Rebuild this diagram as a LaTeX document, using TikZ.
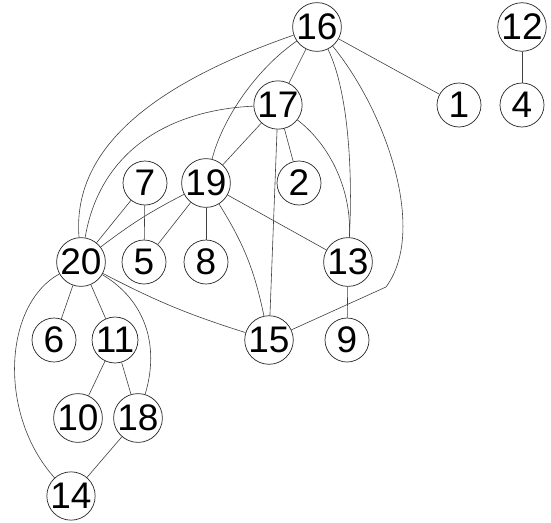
\documentclass[tikz,border=0pt]{standalone}
\usepackage{fontspec}
\setmainfont{Liberation Sans}
\begin{document}
\begin{tikzpicture}[x=1pt,y=1pt,
  vtx/.style={circle,draw=black!85,line width=0.7pt,fill=white,minimum size=44pt,inner sep=0pt,
    font=\fontsize{37}{37}\selectfont},
  edge/.style={draw=black!75,line width=0.6pt}]
\useasboundingbox[fill=white] (0,0) rectangle (551,-522);
\coordinate (k) at (386,-287);
\node[vtx] (16) at (317,-27) {16};
\node[vtx] (12) at (522,-27) {12};
\node[vtx] (1) at (459,-105) {1};
\node[vtx] (4) at (522,-105) {4};
\node[vtx] (17) at (278,-105) {17};
\node[vtx] (7) at (145,-183) {7};
\node[vtx] (19) at (206,-183) {19};
\node[vtx] (2) at (299,-183) {2};
\node[vtx] (20) at (81,-262) {20};
\node[vtx] (5) at (144,-262) {5};
\node[vtx] (8) at (206,-262) {8};
\node[vtx] (13) at (348,-262) {13};
\node[vtx] (6) at (54,-340) {6};
\node[vtx] (11) at (115,-340) {11};
\node[vtx] (15) at (269,-340) {15};
\node[vtx] (9) at (347,-340) {9};
\node[vtx] (10) at (78,-418) {10};
\node[vtx] (18) at (138,-418) {18};
\node[vtx] (14) at (71,-496) {14};
\path[edge] (16) -- (1);
\path[edge] (16) -- (17);
\path[edge] (12) -- (4);
\path[edge] (16) .. controls (150,-85) and (72,-150) .. (20);
\path[edge] (16) .. controls (255,-70) and (222,-120) .. (19);
\path[edge] (17) .. controls (170,-110) and (100,-150) .. (20);
\path[edge] (16) .. controls (348,-90) and (353,-170) .. (13);
\path[edge] (17) .. controls (330,-145) and (352,-190) .. (13);
\path[edge] (16) .. controls (385,-110) and (428,-230) .. (k) -- (15);
\path[edge] (17) -- (15);
\path[edge] (17) -- (19);
\path[edge] (17) -- (2);
\path[edge] (19) to[bend right=5] (20);
\path[edge] (19) -- (5);
\path[edge] (19) -- (8);
\path[edge] (19) -- (13);
\path[edge] (19) to[bend left=10] (15);
\path[edge] (7) -- (5);
\path[edge] (7) -- (20);
\path[edge] (20) -- (6);
\path[edge] (20) -- (11);
\path[edge] (20) to[bend right=5] (15);
\path[edge] (20) .. controls (145,-300) and (160,-345) .. (18);
\path[edge] (20) .. controls (3,-305) and (-2,-415) .. (14);
\path[edge] (13) -- (9);
\path[edge] (11) -- (10);
\path[edge] (11) -- (18);
\path[edge] (18) -- (14);
\end{tikzpicture}
\end{document}
